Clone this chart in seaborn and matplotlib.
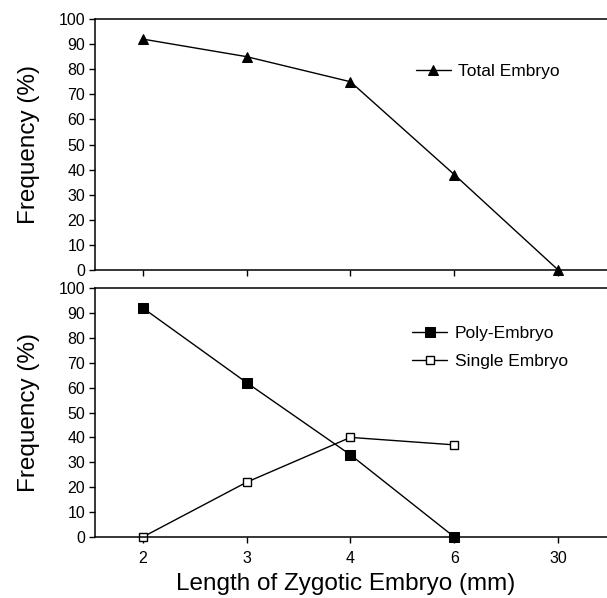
import numpy as np
import seaborn as sns
from matplotlib import pyplot as plt

lengths = ["2", "3", "4", "6", "30"]
total_embryo = [92, 85, 75, 38, 0]
split_lengths = ["2", "3", "4", "6"]
poly_embryo = [92, 62, 33, 0]
single_embryo = [0, 22, 40, 37]
freq_ticks = list(range(0, 101, 10))

sns.set_style("ticks", rc={"axes.edgecolor": "black", "xtick.color": "black",
                           "ytick.color": "black", "text.color": "black",
                           "axes.labelcolor": "black"})
plt.rcParams["font.family"] = ["Liberation Sans", "DejaVu Sans"]

fig = plt.figure(figsize=(6.07, 5.98), dpi=100)
ax1 = fig.add_axes([0.1565, 0.5485, 0.8435, 0.4197])
ax2 = fig.add_axes([0.1565, 0.102, 0.8435, 0.4164])

sns.pointplot(x=lengths, y=total_embryo, order=lengths, color="black", marker="^",
              markersize=7, linewidth=1, errorbar=None, label="Total Embryo",
              clip_on=False, ax=ax1)
sns.pointplot(x=split_lengths, y=poly_embryo, order=lengths, color="black", marker="s",
              markersize=6.5, linewidth=1, errorbar=None, label="Poly-Embryo",
              clip_on=False, ax=ax2)
sns.pointplot(x=split_lengths, y=single_embryo, order=lengths, color="black", marker="s",
              markersize=6, markerfacecolor="white", markeredgewidth=1, linewidth=1,
              errorbar=None, label="Single Embryo", clip_on=False, ax=ax2)

for ax in (ax1, ax2):
    ax.set_xlim(-0.46, 4.47)
    ax.set_ylim(0, 100)
    ax.set_yticks(freq_ticks)
    ax.spines["right"].set_visible(False)
    for s in ("left", "bottom", "top"):
        ax.spines[s].set_linewidth(1.1)
    ax.tick_params(direction="out", length=4, width=1, labelsize=11.5, pad=3)
    ax.set_ylabel("Frequency (%)", fontsize=17.5)
    ax.yaxis.set_label_coords(-0.107, 0.5)

ax1.tick_params(axis="x", labelbottom=False)
ax1.set_xlabel("")
ax2.tick_params(axis="x", pad=6)
ax2.set_xlabel("Length of Zygotic Embryo (mm)", fontsize=17.5)
ax2.xaxis.set_label_coords(0.49, -0.143)

ax1.legend(loc="center left", bbox_to_anchor=(0.685, 0.880), bbox_transform=fig.transFigure,
           frameon=False, fontsize=12.5, handlelength=2.0, handletextpad=0.45,
           borderpad=0, borderaxespad=0)
ax2.legend(loc="center left", bbox_to_anchor=(0.679, 0.419), bbox_transform=fig.transFigure,
           frameon=False, fontsize=12.5, handlelength=2.0, handletextpad=0.45,
           labelspacing=0.75, borderpad=0, borderaxespad=0)

fig.savefig("out.png", dpi=100)
